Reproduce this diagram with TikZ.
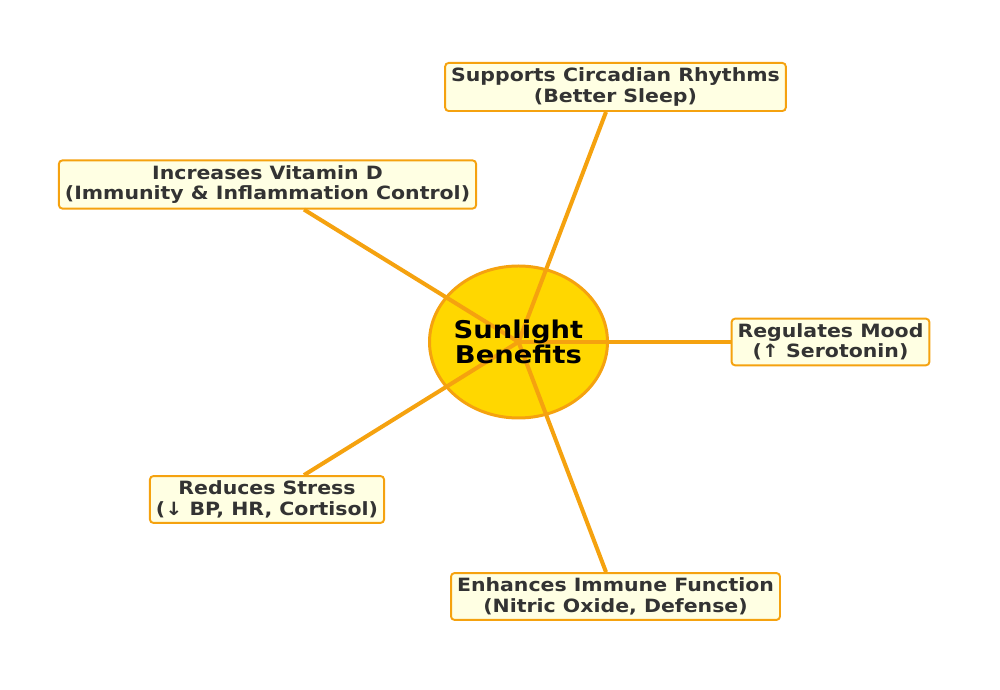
\documentclass[tikz,border=0pt]{standalone}
\usepackage{fontspec}
\setmainfont{DejaVu Sans}[FakeStretch=1.12]
\usepackage{xcolor}
\usetikzlibrary{shapes.geometric}
\definecolor{sunorange}{HTML}{F5A20F}
\definecolor{sungold}{HTML}{FFD700}
\definecolor{boxfill}{HTML}{FFFFE3}
\definecolor{boxtext}{HTML}{333333}

\tikzset{
  benefit/.style={draw=sunorange,fill=boxfill,line width=1.1pt,rounded corners=2pt,
    align=center,text=boxtext,font=\fontsize{10.4}{11.6}\selectfont\bfseries,
    inner xsep=0.12cm,inner ysep=0.1cm},
  ray/.style={sunorange,line width=2.3pt}
}

\begin{document}
\begin{tikzpicture}
        \useasboundingbox (0,0) rectangle (20,13.8);
        \node[draw=sunorange,fill=sungold,ellipse,line width=1.7pt,minimum width=3.56cm,minimum height=3.04cm,inner sep=0pt] at (10.37,6.96) (sun) {};
        \node[benefit] at (12.31,12.06) (sleep) {Supports Circadian Rhythms\\(Better Sleep)};
        \node[benefit] at (5.35,10.11) (vitd) {Increases Vitamin D\\(Immunity \& Inflammation Control)};
        \node[benefit] at (16.61,6.96) (mood) {Regulates Mood\\(↑ Serotonin)};
        \node[benefit] at (5.34,3.81) (stress) {Reduces Stress\\(↓ BP, HR, Cortisol)};
        \node[benefit] at (12.31,1.87) (immune) {Enhances Immune Function\\(Nitric Oxide, Defense)};
        \draw[ray] (sun.center) -- ([xshift=-0.19cm]sleep.south);
        \draw[ray] (sun.center) -- ([xshift=0.73cm]vitd.south);
        \draw[ray] (sun.center) -- (mood.west);
        \draw[ray] (sun.center) -- ([xshift=0.74cm]stress.north);
        \draw[ray] (sun.center) -- ([xshift=-0.19cm]immune.north);
        \node[align=center,font=\fontsize{13.9}{13.3}\selectfont\bfseries] at (sun.center) (suntext) {Sunlight\\Benefits};
    \end{tikzpicture}
\end{document}
